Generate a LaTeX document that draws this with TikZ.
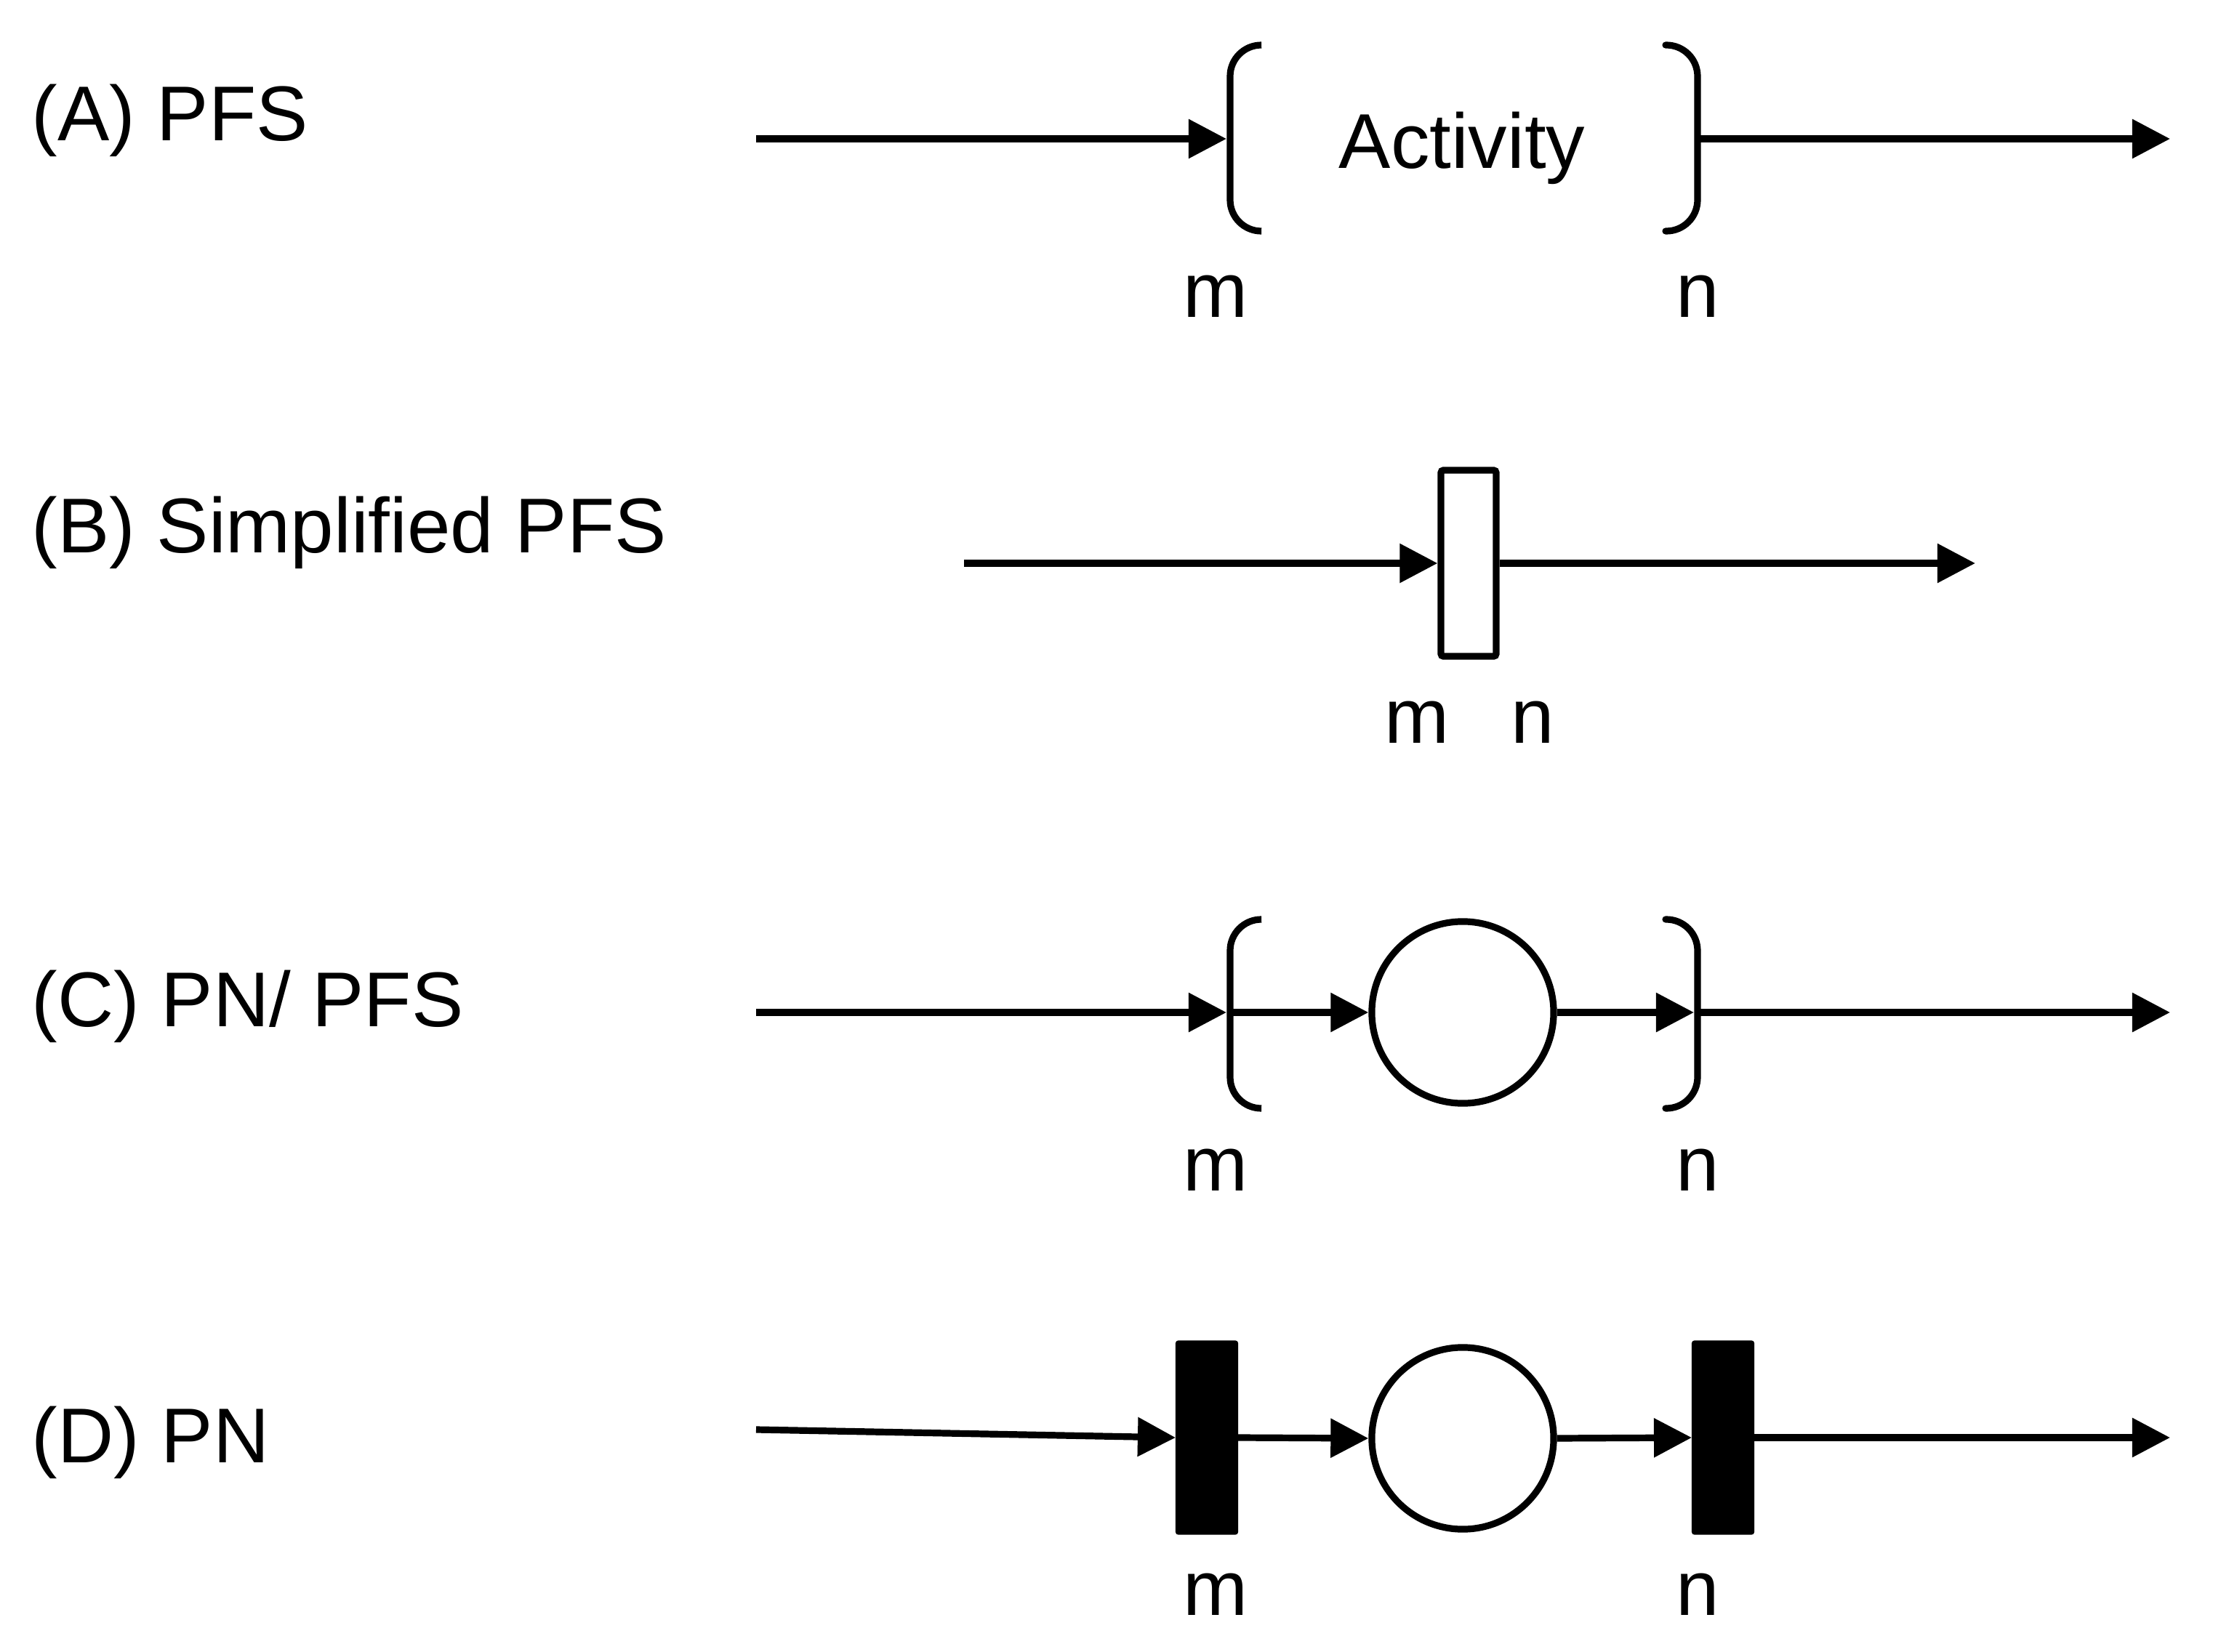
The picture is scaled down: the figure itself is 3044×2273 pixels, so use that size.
\documentclass[tikz,border=0pt]{standalone}
\usepackage{fontspec}
\setmainfont{Liberation Sans}
\usetikzlibrary{arrows.meta}
\begin{document}
\begin{tikzpicture}[x=0.01cm,y=-0.01cm,
  ln/.style={line width=0.092cm},
  arr/.style={ln,-{Triangle[length=0.52cm,width=0.52cm]}},
  lbl/.style={font=\fontsize{30.4}{36}\selectfont, inner sep=0, anchor=base},
  ttl/.style={font=\fontsize{30.4}{36}\selectfont, inner sep=0, anchor=base west},
  brk/.style={ln, rounded corners=0.43cm, line cap=round},
  place/.style={circle, draw, ln, minimum size=2.5cm, inner sep=0},
  trans/.style={fill, minimum width=0.86cm, minimum height=2.67cm, inner sep=0, outer sep=0, rounded corners=1pt},
  strans/.style={draw, ln, minimum width=0.76cm, minimum height=2.56cm, inner sep=0, rounded corners=1pt}
]
\useasboundingbox (0,0) rectangle (3044,2273);

% Row A
\node[ttl] (tA) at (43,194) {(A) PFS};
\coordinate (a0) at (1040,191);
\coordinate (aL) at (1687,191);
\coordinate (aR) at (2335,191);
\coordinate (a1) at (2985,191);
\draw[brk] (1733,62) -- (1692,62) -- (1692,318) -- (1733,318);
\draw[brk] (2291,62) -- (2335,62) -- (2335,318) -- (2291,318);
\node[lbl] (act) at (2011,232) {Activity};
\draw[arr] (a0) -- (aL);
\draw[arr] (aR) -- (a1);
\node[lbl] (am) at (1672,437) {m};
\node[lbl] (an) at (2335,437) {n};

% Row B
\node[ttl] (tB) at (43,761) {(B) Simplified PFS};
\node[strans] (bT) at (2020,775) {};
\coordinate (b0) at (1326,775);
\coordinate (b1) at (2717,775);
\draw[arr] (b0) -- (bT.west);
\draw[arr] (bT.east) -- (b1);
\node[lbl] (bm) at (1949,1022) {m};
\node[lbl] (bn) at (2108,1022) {n};

% Row C
\node[ttl] (tC) at (43,1412) {(C) PN/ PFS};
\draw[brk] (1733,1265) -- (1692,1265) -- (1692,1525) -- (1733,1525);
\draw[brk] (2291,1265) -- (2335,1265) -- (2335,1525) -- (2291,1525);
\node[place] (cP) at (2012,1393) {};
\coordinate (c0) at (1040,1393);
\coordinate (cL) at (1687,1393);
\coordinate (cLo) at (1692,1393);
\coordinate (cR) at (2330,1393);
\coordinate (cRo) at (2335,1393);
\coordinate (c1) at (2985,1393);
\draw[arr] (c0) -- (cL);
\draw[arr] (cLo) -- (cP.west);
\draw[arr] (cP.east) -- (cR);
\draw[arr] (cRo) -- (c1);
\node[lbl] (cm) at (1672,1638) {m};
\node[lbl] (cn) at (2335,1638) {n};

% Row D
\node[ttl] (tD) at (43,2012) {(D) PN};
\node[trans] (dM) at (1660,1978) {};
\node[trans] (dN) at (2370,1978) {};
\node[place] (dP) at (2012,1979) {};
\coordinate (d0) at (1040,1967);
\coordinate (d1) at (2985,1978);
\draw[arr] (d0) -- (dM.west);
\draw[arr] (dM.east) -- (dP.west);
\draw[arr] (dP.east) -- (dN.west);
\draw[arr] (dN.east) -- (d1);
\node[lbl] (dm) at (1672,2222) {m};
\node[lbl] (dn) at (2335,2222) {n};
\end{tikzpicture}
\end{document}
